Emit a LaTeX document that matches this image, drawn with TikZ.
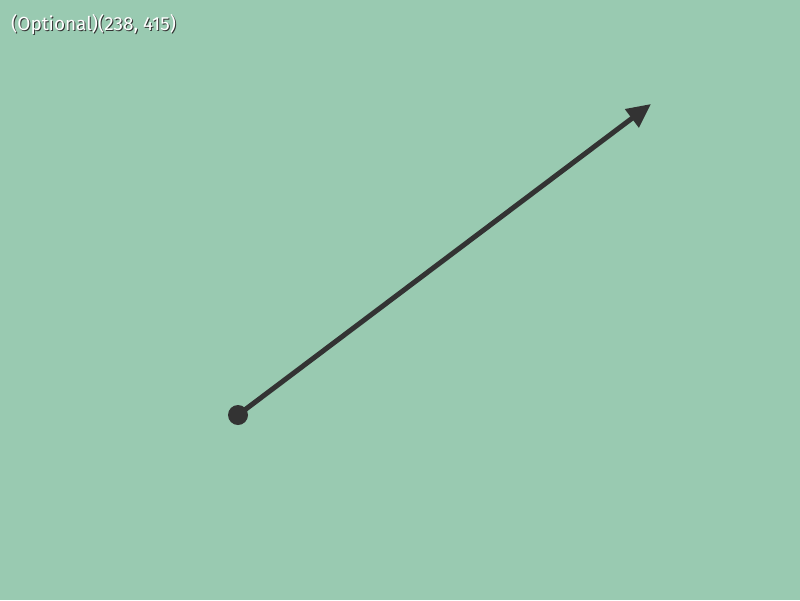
\documentclass[tikz,border=0pt]{standalone}
\usepackage{fontspec}
\setmainfont{Fira Sans}
\usetikzlibrary{arrows.meta}
\definecolor{bg}{HTML}{99CAB1}
\definecolor{ink}{HTML}{333333}
\tikzset{
  lbl/.style={anchor=base west, inner sep=0pt, font=\fontsize{19}{22}\selectfont},
  vec/.style={draw=ink, line width=5pt, -{Triangle[length=24pt,width=22pt]}},
}
\begin{document}
\begin{tikzpicture}[x=1pt,y=-1pt]
\fill[bg] (0,0) rectangle (800,600);
\useasboundingbox (0,0) rectangle (800,600);
\coordinate (start) at (238,415);
\coordinate (tip) at (651,104);
\draw[vec] (start) -- (tip);
\fill[ink] (start) circle (10);
\node[lbl, text=black!80] (shadow) at (12,31) {(Optional)(238, 415)};
\node[lbl, text=white] (label) at (11,30) {(Optional)(238, 415)};
\end{tikzpicture}
\end{document}
